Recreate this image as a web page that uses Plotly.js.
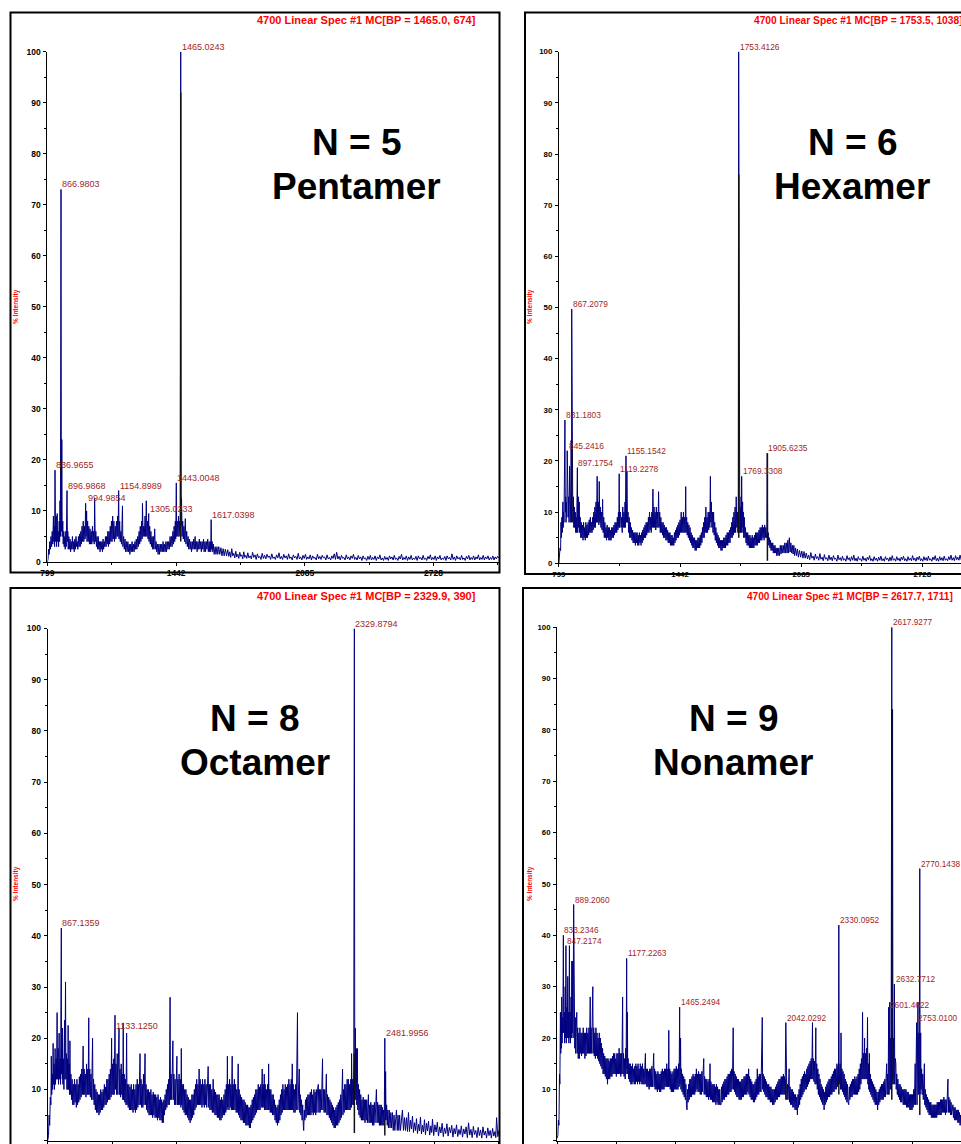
<!DOCTYPE html>
<html>
<head>
<meta charset="utf-8">
<script src="https://cdn.plot.ly/plotly-3.0.1.min.js"></script>
<style>
html,body{margin:0;padding:0;background:#fff;}
#chart{width:961px;height:1144px;}
</style>
</head>
<body>
<div id="chart"></div>
<script>
// ---------------- DATA ----------------
const xTickValues = [799, 1442, 2085, 2728];
const yTickValues = [0, 10, 20, 30, 40, 50, 60, 70, 80, 90, 100];

const oligomerLabels = ['N = 5', 'N = 6', 'N = 8', 'N = 9'];
const oligomerNames = ['Pentamer', 'Hexamer', 'Octamer', 'Nonamer'];
const spectrumTitles = [
  '4700 Linear Spec #1 MC[BP = 1465.0, 674]',
  '4700 Linear Spec #1 MC[BP = 1753.5, 1038]',
  '4700 Linear Spec #1 MC[BP = 2329.9, 390]',
  '4700 Linear Spec #1 MC[BP = 2617.7, 1711]'
];
const yAxisTitle = '% Intensity';

// labelled peaks: m/z and % intensity
const pentamerPeakMz = [1465.0243, 866.9803, 836.9655, 896.9868, 994.9854, 1154.8989, 1305.0233, 1443.0048, 1617.0398];
const pentamerPeakInt = [100, 73, 18, 14, 11.5, 14, 9.5, 15.5, 8.3];
const hexamerPeakMz = [1753.4126, 867.2079, 831.1803, 845.2416, 897.1754, 1155.1542, 1119.2278, 1769.3308, 1905.6235];
const hexamerPeakInt = [100, 49.7, 28, 22, 18.7, 21, 17.5, 17, 21.5];
const octamerPeakMz = [2329.8794, 867.1359, 1133.1250, 2481.9956];
const octamerPeakInt = [100, 41.5, 21.5, 20];
const nonamerPeakMz = [2617.9277, 2770.1438, 2330.0952, 889.2060, 833.2346, 847.2174, 1177.2263, 1465.2494, 2042.0292, 2632.7712, 2601.4622, 2753.0100];
const nonamerPeakInt = [100, 53, 42, 46, 40, 38, 35.5, 26, 23, 30.5, 25.5, 23];

// black centroid marks under the main peaks: m/z, low and high % intensity
const pentamerMarkMz = [1465.0, 866.98];
const pentamerMarkLow = [4, 17];
const pentamerMarkHigh = [92, 20];
const hexamerMarkMz = [1753.4, 1905.6, 867.2];
const hexamerMarkLow = [5, 0.5, 8];
const hexamerMarkHigh = [76, 21.5, 24];
const octamerMarkMz = [2329.9, 2482.0];
const octamerMarkLow = [1.5, 1];
const octamerMarkHigh = [17, 4];
const nonamerMarkMz = [2617.9, 2042.0, 2330.1, 2770.1];
const nonamerMarkLow = [8, 8, 9, 5];
const nonamerMarkHigh = [84, 12, 12, 9];

// spectra: [m/z, % intensity]
const pentamerSpectrum = [
[799,0],[802,0.5],[805,2.5],[808,1.5],[811,4],[814,2.5],[817,5],[820,3],[823,6],[826,3.5],[829,9],[831,4],[834,7],[835,3],[837,18],[840,4],[843,9],[845,3],[848,9.5],[850,4],[853,6],[855,3],[858,8],[860,4],[862,12],[864,5],[867,73],[869,6],[871,24],[873,5],[876,8],[878,3.5],[881,6],[883,3],[886,5],[888,2.5],[891,6],[893,3],[897,14],[899,4],[901,6],[903,2.5],[906,5],[909,2.5],[912,4.5],[915,2],[918,4],[921,2.5],[924,5],[927,2.5],[930,4],[933,2],[936,4.5],[939,2.5],[942,5],[945,3],[948,4],[951,2.5],[954,5],[957,3],[960,5.5],[963,3],[966,6],[969,3.5],[972,7],[975,4],[978,8],[981,4],[984,7],[987,4.5],[990,11.5],[992,5],[995,10],[997,4],[1000,8],[1003,4],[1006,7],[1009,3.5],[1012,6.5],[1015,3.5],[1018,6],[1021,3.5],[1024,7],[1027,4],[1030,6],[1033,3.5],[1035,12.5],[1038,4],[1041,6],[1044,3],[1047,5],[1050,2.5],[1053,5],[1056,2.5],[1059,4],[1062,2],[1065,4],[1068,2.5],[1071,4],[1074,2],[1077,4.5],[1080,2.5],[1083,4],[1086,3],[1089,5],[1092,3],[1095,5],[1098,3.5],[1101,6],[1104,3],[1107,6],[1110,3.5],[1113,7],[1116,4],[1119,8],[1122,4],[1125,9],[1128,4.5],[1131,8],[1134,4],[1138,7],[1141,4.5],[1144,8],[1147,5],[1150,9],[1152,5],[1155,14],[1157,4.5],[1160,8],[1163,4],[1166,6],[1169,3.5],[1171,6],[1174,11],[1176,3],[1180,5],[1183,2.5],[1187,4.5],[1190,2],[1194,4],[1197,2],[1201,4],[1204,2],[1208,3.5],[1211,1.5],[1215,3.5],[1218,2],[1222,4],[1225,2],[1229,3.5],[1232,2],[1236,4],[1239,2.5],[1243,4.5],[1246,2.5],[1250,5],[1253,3],[1257,6],[1260,3.5],[1263,7],[1266,4],[1270,8],[1272,4.5],[1274,11.5],[1277,5],[1280,7],[1283,5],[1287,9],[1290,5],[1293,12],[1296,5],[1299,8],[1302,4.5],[1305,9.5],[1307,4],[1310,7],[1313,3.5],[1316,6],[1319,3],[1322,5],[1325,2.5],[1328,5],[1331,2.5],[1335,6.5],[1338,2.5],[1342,4],[1345,2],[1349,3.5],[1352,1.5],[1356,3.5],[1359,1.5],[1363,3.5],[1366,2],[1370,3.5],[1373,2],[1377,4],[1380,2],[1384,3.5],[1387,2],[1391,4],[1394,2],[1398,4],[1401,2.5],[1405,4],[1408,2.5],[1412,5],[1415,3],[1419,5],[1422,3],[1426,6],[1429,3.5],[1432,7],[1435,4],[1438,8],[1440,4.5],[1443,15.5],[1445,5],[1448,8],[1451,5],[1454,9],[1457,5],[1460,8],[1462,6],[1465,100],[1467,7],[1469,12.5],[1472,5],[1475,8],[1478,4.5],[1481,7],[1484,4],[1488,8.5],[1491,3.5],[1495,6],[1498,3],[1502,5],[1505,2.5],[1509,4.5],[1512,2.5],[1516,4],[1519,2],[1523,4],[1526,2.5],[1530,4.5],[1533,2.5],[1537,5],[1540,2.5],[1544,4],[1547,2],[1551,4],[1554,2.5],[1558,4.5],[1561,2.5],[1565,4],[1568,2],[1572,4],[1575,2.5],[1579,4.5],[1582,2],[1586,4],[1589,2],[1593,4],[1596,2.5],[1600,4.5],[1603,2],[1607,4],[1610,2],[1613,4],[1615,2],[1617,8.3],[1619,2.5],[1622,4],[1625,2],[1628,3.5],[1632,1.5],[1637,3],[1641,1.5],[1646,3],[1650,1.5],[1655,3],[1660,1.5],[1666,2.8],[1671,1.2],[1677,2.6],[1682,1.2],[1688,2.5],[1694,1.2],
[1700,2.4],[1705,1.1],[1710,2.0],[1715,0.9],[1720,2.6],[1725,1.2],[1730,1.7],[1735,0.8],[1740,2.1],[1745,1.0],[1750,1.5],[1755,0.7],[1760,1.9],[1765,1.1],[1770,1.4],[1775,0.6],[1780,2.0],[1785,0.9],[1790,1.3],[1795,0.7],[1800,1.8],[1806,0.8],[1812,1.2],[1818,0.6],[1824,1.9],[1830,0.9],[1836,1.4],[1842,0.5],[1848,1.6],[1854,0.8],[1860,1.1],[1866,0.5],[1872,1.7],[1878,0.7],[1884,1.3],[1890,0.6],[1896,1.5],[1902,0.9],[1908,1.2],[1914,0.5],[1920,1.6],[1926,0.7],[1932,1.0],[1938,0.5],[1944,1.4],[1950,0.8],[1956,1.8],[1962,0.6],[1968,1.1],[1974,0.5],[1980,1.5],[1986,0.8],[1992,1.2],[1998,0.5],[2004,1.6],[2010,0.7],[2016,1.0],[2022,0.4],[2028,1.4],[2034,0.8],[2040,1.1],[2046,0.5],[2052,1.7],[2058,0.6],[2064,1.0],[2070,0.4],[2076,1.3],[2082,0.7],[2088,1.5],[2094,0.5],[2100,1.0],[2106,0.6],[2112,1.4],[2118,0.4],[2124,1.2],[2130,0.7],[2136,0.9],[2142,0.4],[2148,1.5],[2154,0.6],[2160,1.1],[2166,0.5],[2172,1.3],[2178,0.8],[2184,1.0],[2190,0.4],[2196,1.4],[2202,0.6],[2208,0.9],[2214,0.4],[2220,1.2],[2226,0.7],[2232,1.6],[2238,0.5],[2244,1.9],[2250,0.6],[2256,1.1],[2262,0.4],[2268,1.3],[2274,0.7],[2280,0.9],[2286,0.4],[2292,1.4],[2298,0.6],[2304,1.0],[2310,0.4],[2316,1.2],[2322,0.7],[2328,1.5],[2334,0.5],[2340,0.9],[2346,0.4],[2352,1.3],[2358,0.6],[2364,1.0],[2370,0.3],[2376,1.2],[2382,0.6],[2388,0.8],[2394,0.3],[2400,1.1],[2406,0.5],[2412,1.3],[2418,0.4],[2424,0.9],[2430,0.5],[2436,1.2],[2442,0.3],[2448,1.0],[2454,0.6],[2460,1.4],[2466,0.4],[2472,0.8],[2478,0.3],[2484,1.1],[2490,0.5],[2496,0.9],[2502,0.3],[2508,1.2],[2514,0.6],[2520,1.0],[2526,0.4],[2532,1.3],[2538,0.5],[2544,0.8],[2550,0.3],[2556,1.1],[2562,0.6],[2568,1.5],[2574,0.4],[2580,0.9],[2586,0.5],[2592,1.2],[2598,0.3],[2604,1.0],[2610,0.5],[2616,1.3],[2622,0.4],[2628,0.8],[2634,0.5],[2640,1.1],[2646,0.3],[2652,1.2],[2658,0.6],[2664,0.9],[2670,0.4],[2676,1.3],[2682,0.5],[2688,0.8],[2694,0.3],[2700,1.1],[2706,0.6],[2712,1.4],[2718,0.4],[2724,0.9],[2730,0.5],[2736,1.2],[2742,0.3],[2748,1.0],[2754,0.6],[2760,1.3],[2766,0.4],[2772,0.8],[2778,0.5],[2784,1.1],[2790,0.3],[2796,1.2],[2802,0.6],[2808,0.9],[2814,0.4],[2820,1.6],[2826,0.5],[2832,1.0],[2838,0.3],[2844,1.2],[2850,0.6],[2856,0.9],[2862,0.4],[2868,1.3],[2874,0.5],[2880,0.8],[2886,0.3],[2892,1.1],[2898,0.6],[2904,1.3],[2910,0.4],[2916,0.9],[2922,0.5],[2928,1.2],[2934,0.4],[2940,1.0],[2946,0.6],[2952,1.4],[2958,0.4],[2964,0.9],[2970,0.5],[2976,1.3],[2982,0.4],[2988,1.0],[2994,0.6],[3000,1.2],[3006,0.4],[3012,0.9],[3018,0.5],[3024,1.2],[3030,0.4],[3036,1.0],[3042,0.6],[3048,1.1],[3055,0.8]
];

const hexamerSpectrum = [
[799,0],[802,1],[805,3],[808,2.5],[810,8],[812,5],[815,9],[817,6],[820,12],[822,7],[824,10],[826,8],[828,27],[830,9],[831,28],[833,10],[835,13],[837,8],[839,12],[841,9],[843,22],[845,10],[847,22],[849,9],[851,13],[853,8],[856,19],[858,9],[860,13],[862,8],[864,24],[866,9],[867,49.7],[869,10],[871,24],[873,8],[876,13],[878,7],[881,11],[883,7],[886,10],[888,6],[891,9],[893,6],[897,18.7],[899,6],[902,13],[904,7],[907,12],[909,6],[912,9],[915,5],[918,8],[921,5],[924,7.5],[927,4.5],[930,8],[933,5],[936,7],[939,4.5],[942,8],[945,5],[948,7.5],[951,5],[954,8],[957,5.5],[960,8.5],[963,6],[966,9],[969,6],[972,8],[975,6],[978,9],[981,6.5],[984,10],[987,7],[990,11],[993,7],[996,12],[999,8],[1002,17],[1005,8],[1008,12],[1011,7.5],[1013,16],[1016,8],[1019,11],[1022,7],[1025,10],[1028,6.5],[1031,12.5],[1034,6],[1037,9],[1040,5],[1043,8],[1046,5],[1049,7],[1052,4.5],[1055,7.5],[1058,5],[1061,7],[1064,4.5],[1067,7],[1070,4.5],[1073,6.5],[1076,4.5],[1079,7],[1082,5],[1085,7],[1088,5],[1091,7.5],[1094,5.5],[1097,8],[1100,6],[1103,8],[1106,6],[1109,9],[1112,6.5],[1115,10],[1117,7],[1119,17.5],[1121,7],[1123,9],[1126,10],[1129,7],[1132,9],[1135,6],[1138,11],[1141,7],[1144,10],[1147,7],[1150,12],[1152,7],[1155,21],[1157,8],[1160,18],[1163,8],[1166,10],[1169,6],[1172,9],[1175,5],[1178,8],[1181,5],[1184,7],[1187,4.5],[1190,6.5],[1193,4],[1196,6],[1199,4],[1202,6],[1205,3.5],[1208,6],[1211,4],[1214,6],[1217,3.5],[1220,5.5],[1223,3.5],[1226,6],[1229,4],[1232,5.5],[1235,3.5],[1238,6],[1241,4],[1244,6.5],[1247,4.5],[1250,7],[1253,5],[1256,7.5],[1259,5],[1262,8],[1265,5.5],[1268,8],[1271,6],[1274,9],[1277,6],[1280,10],[1283,6.5],[1286,9],[1289,6],[1292,10],[1295,7],[1298,14.5],[1301,7],[1304,11],[1307,7],[1310,10],[1313,6.5],[1316,11],[1319,7],[1322,10],[1325,7],[1328,14],[1331,7],[1334,10],[1337,6],[1340,9],[1343,6],[1346,8],[1349,5.5],[1352,8],[1355,5],[1358,7.5],[1361,5],[1364,7],[1367,4.5],[1370,7],[1373,4.5],[1376,6.5],[1379,4],[1382,6],[1385,4],[1388,6],[1391,3.5],[1394,5.5],[1397,3.5],[1400,5.5],[1403,3.5],[1406,5],[1409,3.5],[1412,6],[1415,4],[1418,6.5],[1421,4.5],[1424,7],[1427,5],[1430,7.5],[1433,5],[1436,8],[1439,5.5],[1442,8.5],[1445,6],[1448,10],[1451,6],[1454,9],[1457,6],[1460,10],[1463,6],[1466,9],[1469,6],[1472,15],[1474,6],[1477,9],[1480,5.5],[1483,8],[1486,5],[1489,7.5],[1492,4.5],[1495,7],[1498,4],[1501,6],[1504,3.5],[1507,5.5],[1510,3],[1513,5],[1516,3],[1519,5],[1522,2.5],[1525,4.5],[1528,2.5],[1531,4.5],[1534,3],[1537,5],[1540,3],[1543,5],[1546,3],[1549,5.5],[1552,3.5],[1555,6],[1558,4],[1561,7],[1564,5],[1567,8],[1570,5],[1573,9],[1576,6],[1579,11],[1582,6],[1585,9],[1588,6],[1591,10],[1594,6.5],[1597,10],[1600,7],[1603,17],[1605,8],[1608,12],[1611,7],[1614,10],[1617,6],[1620,10],[1623,5.5],[1626,8],[1629,4.5],[1632,7],[1635,4],[1638,6],[1641,3.5],[1644,5.5],[1647,3],[1650,5],[1653,3],[1656,4.5],[1659,2.5],[1662,4.5],[1665,2.5],[1668,4.5],[1671,3],[1674,5],[1677,3],[1680,5],[1683,3],[1686,5.5],[1689,3.5],[1692,6],[1695,3.5],[1698,6],[1701,4],[1704,6.5],[1707,4],[1710,7],[1713,5],[1716,8],[1719,5],[1722,9],[1725,5.5],[1728,10],[1731,6],[1734,11],[1737,6],[1740,13],[1743,7],[1746,10],[1749,6],[1751,9],[1753,100],[1755,9],[1757,12],[1759,6],[1762,11],[1764,6],[1766,13],[1767,6],[1769,17],[1771,7],[1774,12],[1776,6],[1778,10],[1780,5],[1783,9],[1786,5],[1789,7],[1792,4],[1795,6],[1798,3.5],[1801,6],[1804,3.5],[1807,5.5],[1810,3],[1813,5.5],[1816,3],[1819,5],[1822,3],[1825,5.5],[1828,3],[1831,5],[1834,3],[1837,5.5],[1840,3.5],[1843,6],[1846,3.5],[1849,6],[1852,3.5],[1855,6],[1858,4],[1861,6.5],[1864,4],[1867,7],[1870,4.5],[1873,7],[1876,4.5],[1879,7.5],[1882,5],[1885,7],[1888,4.5],[1891,7.5],[1894,5],[1897,7],[1900,5],[1903,6],[1905,21.5],[1907,5],[1910,6],[1913,3.5],[1916,5],[1919,3],[1922,4.5],[1925,2.5],[1928,4],[1931,2.5],[1934,4],[1937,2],[1940,3.5],[1943,2],[1946,3.5],[1949,2],[1952,3],[1955,1.5],[1958,3],[1962,1.5],[1966,3],[1970,1.5],[1974,3.5],[1978,1.8],[1982,3.5],[1986,2],[1990,3.5],[1994,2],[1998,4],[2002,2],[2006,4],[2010,2],[2014,4.5],[2018,2],[2022,5],[2026,2.2],[2030,4],[2034,2],[2038,3.5],[2042,1.8],[2046,3.5],[2050,1.5],[2055,3],[2060,1.5],[2065,2.8],[2070,1.2],[2076,2.5],[2082,1.2],[2088,2.4],[2094,1],
[2100,2.3],[2106,1.0],[2112,2.0],[2118,0.9],[2124,1.6],[2130,0.7],[2136,2.1],[2142,1.0],[2148,1.4],[2154,0.6],[2160,1.8],[2166,0.9],[2172,1.3],[2178,0.6],[2184,1.9],[2190,0.8],[2196,1.2],[2202,0.5],[2208,1.7],[2214,0.8],[2220,1.1],[2226,0.5],[2232,1.6],[2238,0.7],[2244,1.2],[2250,0.5],[2256,1.5],[2262,0.8],[2268,1.0],[2274,0.4],[2280,1.6],[2286,0.7],[2292,1.1],[2298,0.5],[2304,1.4],[2310,0.6],[2316,0.9],[2322,0.4],[2328,1.5],[2334,0.7],[2340,1.1],[2346,0.4],[2352,1.3],[2358,0.6],[2364,1.6],[2370,0.5],[2376,1.0],[2382,0.4],[2388,1.3],[2394,0.7],[2400,0.9],[2406,0.4],[2412,1.4],[2418,0.6],[2424,1.0],[2430,0.4],[2436,1.2],[2442,0.7],[2448,1.5],[2454,0.5],[2460,0.9],[2466,0.4],[2472,1.3],[2478,0.6],[2484,1.0],[2490,0.4],[2496,1.2],[2502,0.6],[2508,1.4],[2514,0.5],[2520,0.9],[2526,0.4],[2532,1.3],[2538,0.7],[2544,1.0],[2550,0.4],[2556,1.2],[2562,0.5],[2568,1.5],[2574,0.6],[2580,0.9],[2586,0.4],[2592,1.3],[2598,0.6],[2604,1.0],[2610,0.4],[2616,1.2],[2622,0.7],[2628,1.4],[2634,0.5],[2640,0.9],[2646,0.4],[2652,1.3],[2658,0.6],[2664,1.0],[2670,0.5],[2676,1.5],[2682,0.6],[2688,1.0],[2694,0.4],[2700,1.2],[2706,0.7],[2712,1.4],[2718,0.5],[2724,0.9],[2730,0.4],[2736,1.3],[2742,0.6],[2748,1.1],[2754,0.5],[2760,1.4],[2766,0.6],[2772,0.9],[2778,0.4],[2784,1.2],[2790,0.7],[2796,1.5],[2802,0.5],[2808,1.0],[2814,0.4],[2820,1.3],[2826,0.6],[2832,1.1],[2838,0.5],[2844,1.4],[2850,0.6],[2856,0.9],[2862,0.5],[2868,1.3],[2874,0.7],[2880,1.6],[2886,0.6],[2892,1.1],[2898,0.5],[2904,1.5],[2910,0.7],[2916,1.2],[2922,0.6],[2928,1.6],[2934,0.7],[2940,1.1],[2946,0.6],[2952,1.4],[2959,0.9]
];

const octamerSpectrum = [
[799,0],[803,1],[806,5],[809,3],[812,8.5],[815,7],[817,16.5],[819,9],[822,13],[824,10],[826,19],[828,11],[831,15],[833,10],[836,18],[838,11],[841,16],[843,12],[846,25],[848,12],[851,18],[853,11],[856,21],[858,12],[861,16],[863,11],[867,41.5],[868,13],[870,18],[872,12],[873,22],[875,11],[878,16],[880,10],[883,23.5],[885,12],[888,31],[890,12],[893,17],[895,10],[898,16],[900,10],[901,22.5],[903,10],[906,15],[908,9],[910,19.5],[912,9],[915,13],[918,8],[921,12],[924,7],[927,11],[930,7],[933,12],[936,7.5],[939,11],[942,6.5],[945,12],[948,7],[951,11],[954,7.5],[957,12.5],[960,8],[963,13],[966,8.5],[969,14],[972,9],[976,18.5],[978,9],[981,14],[984,9],[987,13],[990,8.5],[993,15],[996,9],[999,14],[1001,9],[1004,24],[1006,9],[1009,14],[1012,8.5],[1015,13],[1018,8],[1021,14],[1023,20],[1025,8],[1028,12],[1031,7],[1034,11],[1037,6],[1040,10],[1043,5.5],[1046,9.5],[1049,5.5],[1052,9],[1055,5],[1058,9],[1061,5.5],[1064,10],[1067,6],[1070,9.5],[1073,6],[1076,10],[1079,6.5],[1082,11],[1085,7],[1088,10.5],[1091,7],[1094,12],[1097,7.5],[1100,12],[1103,8],[1106,13],[1109,8],[1112,14],[1115,8.5],[1118,20],[1120,9],[1123,15],[1126,9],[1129,16],[1131,9],[1133,21.5],[1135,24.5],[1137,10],[1140,15],[1143,9],[1146,17],[1149,9],[1152,14],[1155,22],[1157,9],[1160,14],[1163,8.5],[1166,15],[1169,9],[1172,13],[1174,8],[1176,23],[1178,8],[1181,13],[1184,7.5],[1187,12],[1190,7],[1193,21],[1195,7],[1198,11],[1201,6.5],[1204,11],[1207,6],[1210,10.5],[1213,6],[1216,11],[1219,6],[1222,10],[1225,5.5],[1228,11],[1231,6],[1234,10],[1237,5.5],[1240,11],[1243,6],[1246,12],[1249,6.5],[1252,11],[1255,7],[1258,12],[1260,17],[1262,7],[1265,12],[1268,6.5],[1271,11],[1274,6.5],[1277,13],[1280,7],[1283,12],[1285,17],[1287,7],[1290,11],[1293,6],[1296,10],[1299,5.5],[1302,10],[1305,5],[1308,9.5],[1311,5],[1314,10],[1317,5],[1320,9],[1323,4.5],[1326,9.5],[1329,5],[1332,9],[1335,4.5],[1338,9],[1341,4.5],[1344,8.5],[1347,4],[1350,9],[1353,4.5],[1356,8],[1359,4],[1362,8.5],[1365,4],[1368,8],[1371,3.5],[1374,7.5],[1376,3.5],[1379,8],[1382,5],[1385,9],[1388,6],[1391,10],[1394,6.5],[1397,11],[1400,7],[1403,12],[1406,7],[1408,13],[1410,28],[1412,8],[1415,13],[1418,8],[1421,14],[1424,19.5],[1426,8],[1429,13],[1432,7],[1435,12],[1438,7],[1441,13],[1444,16.5],[1446,7],[1449,12],[1452,7],[1455,13],[1458,7],[1461,12],[1464,6.5],[1466,18],[1468,7],[1471,11],[1474,6],[1477,11],[1480,5.5],[1483,10],[1486,5],[1489,10],[1492,5],[1495,9],[1498,4.5],[1501,8.5],[1504,4],[1507,8],[1510,3.5],[1513,8],[1516,4],[1519,9],[1522,4.5],[1525,9],[1528,5],[1531,10],[1534,6],[1537,11],[1540,6.5],[1543,12],[1546,7],[1549,11],[1552,7],[1555,14],[1557,7],[1560,12],[1563,7],[1566,11],[1569,6.5],[1572,12],[1575,7],[1578,11],[1581,6.5],[1584,12],[1587,7],[1590,11],[1593,6.5],[1596,12],[1600,14.5],[1603,6.5],[1606,11],[1609,6],[1612,11],[1615,6],[1618,10],[1621,5.5],[1625,12],[1628,5.5],[1631,10],[1634,5],[1637,9.5],[1640,5],[1643,9],[1646,4.5],[1649,9],[1652,4.5],[1655,9],[1658,4],[1661,8],[1664,4],[1667,8.5],[1670,4.5],[1673,8],[1676,5],[1679,9],[1682,5],[1685,10],[1688,5.5],[1691,11],[1694,6],[1696,16.5],[1698,6.5],[1701,11],[1704,6],[1707,12],[1710,6.5],[1713,11],[1716,6],[1720,16.5],[1722,6],[1725,11],[1728,6],[1731,12],[1734,6],[1737,11],[1740,5.5],[1743,10],[1746,5.5],[1750,15],[1752,5],[1755,10],[1758,4.5],[1761,9],[1764,4],[1767,8.5],[1770,4],[1773,8],[1776,3.5],[1779,8],[1782,3.5],[1785,7.5],[1788,3],[1791,7],[1794,3],[1797,7],[1800,3],[1803,6.5],[1806,2.5],[1809,6.5],[1811,2.5],[1814,7],[1817,3.5],[1820,8],[1823,4],[1826,8.5],[1829,4.5],[1832,9],[1835,5],[1838,10],[1841,5.5],[1844,10],[1847,6],[1850,11],[1853,6],[1856,10.5],[1859,6],[1862,11],[1865,6.5],[1868,10],[1870,14],[1872,6.5],[1875,11],[1878,6.5],[1880,13],[1882,6],[1885,11],[1888,6],[1891,10],[1894,6],[1897,11],[1900,6],[1902,15],[1904,6],[1907,10],[1910,5.5],[1913,10],[1916,5.5],[1919,9],[1922,5],[1925,9],[1928,5],[1931,8],[1934,4],[1937,7],[1940,3.5],[1943,6.5],[1946,3],[1949,7],[1952,3.5],[1955,8],[1958,4],[1961,9],[1964,5],[1967,10],[1970,5.5],[1973,11],[1976,6],[1979,10],[1982,6],[1985,11],[1988,6],[1991,10.5],[1994,6],[1997,11],[2000,6],[2003,12],[2006,6],[2009,11],[2012,6],[2015,12],[2017,6],[2020,15],[2022,6],[2025,11],[2028,5.5],[2031,10],[2034,5.5],[2037,11],[2040,6],[2043,12],[2046,25],[2048,6],[2051,11],[2055,14],[2057,5.5],[2060,9],[2063,5],[2066,8],[2069,4],[2072,7],[2075,3],[2077,2],[2080,6],[2083,4],[2086,8],[2089,4.5],[2092,8.5],[2095,5],[2098,9],[2101,5],[2104,9],[2107,5],[2110,9.5],[2113,5],[2116,10],[2119,5.5],[2122,9],[2125,5],[2128,10],[2131,5.5],[2134,9.5],[2137,5],[2140,10],[2143,5.5],[2146,10],[2150,11],[2153,5.5],[2156,10],[2159,5.5],[2162,10],[2165,6],[2168,11],[2171,16],[2173,6],[2176,10],[2179,5.5],[2182,10],[2185,5.5],[2188,9],[2190,13],[2193,5],[2196,9],[2199,5],[2202,8.5],[2205,4.5],[2208,8],[2211,4],[2214,7.5],[2217,3.5],[2220,7],[2223,3],[2226,6.5],[2229,2.5],[2232,6],[2235,2.5],[2238,6.5],[2241,3],[2244,7],[2247,3],[2250,7.5],[2253,3.5],[2256,8],[2259,4],[2262,9],[2265,4.5],[2268,10],[2271,14],[2273,5],[2276,10],[2279,5.5],[2282,11],[2285,6],[2288,11],[2291,6],[2294,12],[2297,6],[2300,12],[2303,6],[2306,11],[2309,6],[2312,12],[2315,6.5],[2316,17],[2319,7],[2322,12],[2325,7],[2327,16],[2329.9,100],[2332,9],[2335,22],[2337,8],[2340,18],[2342,7],[2345,18],[2347,6],[2350,11],[2353,5],[2356,10],[2359,4.5],[2362,9],[2365,4],[2368,8],[2371,4],[2374,8.5],[2377,4],[2380,8],[2383,3.5],[2386,8],[2389,4],[2392,8],[2395,3.5],[2398,7.5],[2400,9],[2403,3.5],[2406,7],[2409,3.5],[2412,7.5],[2415,3.5],[2418,7],[2421,3],[2424,7],[2427,3],[2430,7.5],[2433,3.5],[2436,8],[2440,10],[2443,3.5],[2446,7.5],[2449,3.5],[2452,7],[2455,3],[2458,7],[2461,3],[2464,7],[2467,3],[2470,6.5],[2473,3],[2476,6],[2479,3],[2482,20],[2484,4],[2486,13.5],[2488,4],[2491,7],[2494,3],[2497,6],[2500,2.5],[2504,6],[2508,2.5],[2512,5.5],[2516,2.5],[2520,5.5],[2524,2],[2528,5],[2532,2],[2536,5],[2540,6],[2544,2],[2548,5],[2552,2],[2556,5],[2560,2],[2565,5],[2570,6],[2575,2],[2580,4.5],[2585,2],[2590,4.5],[2595,1.8],
[2600,5.5],[2605,1.8],[2610,4.0],[2615,2.3],[2620,4.8],[2625,1.6],[2630,3.5],[2635,2.0],[2640,4.3],[2645,1.4],[2650,3.2],[2655,1.9],[2660,4.6],[2665,1.3],[2670,3.0],[2675,1.7],[2680,4.1],[2685,1.2],[2690,3.4],[2695,1.9],[2700,3.8],[2706,1.1],[2712,2.9],[2716,1.6],[2720,4.2],[2726,1.0],[2732,3.1],[2738,1.7],[2744,3.6],[2750,0.9],[2756,2.7],[2762,1.5],[2768,3.4],[2774,0.8],[2780,2.5],[2786,1.4],[2792,3.3],[2798,0.9],[2804,2.6],[2810,1.5],[2816,3.0],[2822,0.7],[2828,2.4],[2834,1.3],[2840,3.1],[2846,0.8],[2852,2.2],[2858,1.2],[2864,2.9],[2870,0.7],[2876,2.3],[2882,1.3],[2888,2.7],[2894,0.6],[2900,3.5],[2906,1.1],[2912,2.2],[2918,0.6],[2924,2.8],[2930,1.2],[2936,2.0],[2942,0.6],[2948,2.6],[2954,1.0],[2960,2.1],[2966,0.5],[2972,2.7],[2978,1.1],[2984,1.9],[2990,0.5],[2996,2.5],[3002,1.0],[3008,2.0],[3014,0.5],[3020,2.4],[3026,0.9],[3032,1.8],[3036,0.6],[3040,4.5],[3046,0.8],[3052,2]
];

const nonamerSpectrum = [
[799,0.5],[803,1],[806,4],[809,3],[812,13],[814,11],[817,25],[819,17],[821,25],[823,18],[824,28],[826,19],[828,24],[830,21],[833,40],[835,21],[838,25],[840,19],[843,30],[845,20],[847,38],[849,19],[852,26],[854,20],[857,32],[859,20],[861,25],[863,19],[866,38],[868,20],[870,25],[872,19],[875,28],[877,20],[879,35],[881,21],[884,35],[886,20],[889,46],[891,20],[893,25],[895,18],[898,24],[900,17],[903,22],[906,25],[908,17],[911,22],[914,16],[917,21],[920,16],[923,22],[926,17],[929,21],[932,16.5],[935,21],[938,17],[941,22],[944,17],[947,21],[950,16],[953,21],[956,16.5],[960,22],[963,17],[966,21],[969,17],[972,22],[975,17],[979,28],[981,17],[984,22],[987,17],[990,21],[993,30],[995,17],[998,22],[1001,16.5],[1004,21],[1007,16],[1010,22],[1013,16.5],[1016,21],[1019,16],[1022,20],[1025,15.5],[1028,21],[1031,15],[1034,20],[1037,14.5],[1040,19],[1043,14],[1046,18],[1049,13],[1052,17],[1055,13],[1058,16.5],[1061,12.5],[1064,16],[1067,12],[1070,16],[1073,11],[1076,16],[1079,12],[1082,15.5],[1085,12],[1088,16],[1091,12.5],[1094,16],[1097,12.5],[1100,16.5],[1103,13],[1106,17],[1109,13],[1112,17],[1115,13],[1118,16],[1121,12.5],[1124,17],[1127,13],[1130,17],[1133,13],[1136,18],[1139,13],[1142,17],[1145,12.5],[1148,17],[1151,13],[1155,28],[1157,13],[1160,17],[1163,12.5],[1166,16],[1169,12],[1172,18],[1174,13],[1177,35.5],[1179,14],[1181,25],[1183,13],[1185,16],[1188,12],[1191,15],[1194,11.5],[1197,15],[1200,11],[1203,14.5],[1206,11],[1209,15],[1212,11.5],[1215,14],[1218,11],[1221,14.5],[1224,11],[1227,15],[1230,11.5],[1233,14.5],[1236,11],[1239,15],[1242,11.5],[1245,14],[1248,11],[1251,15],[1254,11.5],[1257,14.5],[1260,11],[1263,15],[1266,11],[1269,14],[1272,11],[1275,15],[1279,17],[1281,11],[1284,14],[1287,10.5],[1290,14],[1293,10.5],[1296,13.5],[1299,10],[1302,14],[1305,10.5],[1308,14],[1311,10.5],[1314,14.5],[1317,10.5],[1320,14],[1324,17],[1326,10.5],[1329,14],[1332,10],[1335,13.5],[1338,10],[1341,13],[1344,9.5],[1347,13.5],[1350,10],[1353,13],[1356,9.5],[1359,13],[1362,9.5],[1365,13.5],[1368,10],[1371,14],[1374,10],[1377,13.5],[1380,10],[1383,14],[1386,10.5],[1389,14],[1392,10.5],[1395,15],[1398,10.5],[1401,14],[1404,10.5],[1406,21.5],[1408,10.5],[1411,14],[1414,10],[1417,13.5],[1420,9.5],[1423,13],[1426,9.5],[1429,13.5],[1432,9.5],[1435,14],[1438,10],[1441,14],[1444,10],[1447,14.5],[1450,10],[1453,14],[1456,10],[1459,15],[1462,10.5],[1465,26],[1467,11],[1470,20],[1472,10],[1475,14],[1478,9.5],[1481,13],[1484,9],[1487,12.5],[1490,8.5],[1493,12],[1496,8],[1499,11],[1502,7],[1505,6],[1508,10],[1511,7.5],[1514,11],[1517,8],[1520,12],[1523,8.5],[1526,12],[1529,8.5],[1532,12.5],[1535,9],[1538,13],[1541,9],[1544,12.5],[1547,9],[1550,13],[1553,9.5],[1556,14],[1559,10],[1562,13],[1565,9.5],[1568,13.5],[1571,9.5],[1574,13],[1577,9],[1580,13],[1583,9],[1586,13.5],[1589,9.5],[1592,13],[1596,16],[1598,9],[1601,12.5],[1604,9],[1607,12],[1610,8.5],[1613,12],[1616,8.5],[1619,11.5],[1622,8],[1625,12],[1628,8.5],[1630,15],[1632,8],[1635,11.5],[1638,8],[1641,11],[1644,7.5],[1647,11],[1650,7.5],[1653,11],[1656,7.5],[1659,10.5],[1662,7],[1665,11],[1668,7.5],[1671,10.5],[1674,7],[1677,10],[1680,7],[1683,10],[1686,7],[1690,7],[1693,10.5],[1696,7.5],[1699,11],[1702,8],[1705,11.5],[1708,8],[1711,12],[1714,8.5],[1717,12],[1720,8.5],[1723,12.5],[1726,9],[1729,13],[1732,9],[1735,13],[1738,9.5],[1741,13.5],[1744,9.5],[1747,14],[1750,10],[1753,14],[1756,22],[1758,10],[1761,13.5],[1764,9.5],[1767,13],[1770,9],[1773,12.5],[1776,8.5],[1779,12],[1782,8.5],[1785,12],[1788,8],[1791,11.5],[1794,8],[1797,11.5],[1800,8],[1803,12],[1806,8.5],[1809,12],[1812,8.5],[1815,12.5],[1818,9],[1821,12.5],[1824,9],[1827,13],[1830,9],[1833,13],[1836,9.5],[1840,14],[1842,9],[1845,12.5],[1848,8.5],[1851,12],[1854,8],[1857,11.5],[1860,8],[1863,11],[1866,7.5],[1869,11],[1872,7.5],[1875,11.5],[1878,8],[1881,12],[1884,8.5],[1887,14],[1889,9],[1892,12.5],[1895,9],[1898,13],[1901,9.5],[1904,13],[1907,9.5],[1910,13.5],[1914,24],[1916,10],[1919,13],[1922,9.5],[1925,12.5],[1928,9],[1931,12],[1934,8.5],[1937,11.5],[1940,8.5],[1943,11],[1946,8],[1949,11],[1952,8],[1955,10.5],[1958,7.5],[1961,10.5],[1964,7.5],[1967,10],[1970,7],[1973,10],[1976,7],[1978,7],[1981,10],[1984,7.5],[1987,10.5],[1990,8],[1993,11],[1996,8],[1999,11.5],[2002,8.5],[2005,12],[2008,8.5],[2011,12],[2014,9],[2017,12.5],[2020,9],[2023,12.5],[2026,9],[2029,13],[2032,9],[2035,12.5],[2038,9],[2042,23],[2044,9],[2046,12],[2048,8],[2051,11],[2054,8],[2057,11],[2060,14],[2062,7.5],[2065,10.5],[2068,7],[2071,10],[2074,7],[2077,10],[2080,6.5],[2083,9.5],[2086,6.5],[2089,9],[2092,6],[2095,9],[2098,6],[2101,8.5],[2105,5],[2108,9],[2111,6.5],[2114,10],[2117,7],[2120,11],[2123,8],[2126,12],[2129,8.5],[2132,12.5],[2135,9],[2138,13],[2141,9.5],[2144,13.5],[2147,10],[2150,13],[2153,10],[2156,14],[2159,10.5],[2162,14.5],[2165,11],[2168,15],[2171,11.5],[2174,15.5],[2177,12],[2180,16],[2183,12],[2187,23],[2189,12],[2192,16],[2195,11.5],[2198,15.5],[2201,11],[2205,22],[2207,11],[2210,15],[2213,10],[2216,14],[2219,9],[2222,13],[2225,8.5],[2228,12],[2231,8],[2234,11],[2237,7.5],[2240,10.5],[2243,7],[2246,10],[2250,6],[2253,9.5],[2256,7],[2259,10.5],[2262,7.5],[2265,11],[2268,8],[2271,11.5],[2274,8.5],[2277,12],[2280,8.5],[2283,12],[2286,9],[2289,12.5],[2292,9],[2295,13],[2298,9.5],[2301,13.5],[2304,9.5],[2307,14],[2310,10],[2313,14],[2316,10],[2320,15],[2323,10.5],[2326,14.5],[2328,11],[2330,42],[2332,11],[2337,15],[2340,10],[2342,21],[2344,10],[2347,14],[2350,9.5],[2353,13.5],[2356,9],[2359,13],[2362,8.5],[2365,12],[2368,8],[2371,11.5],[2374,7.5],[2377,11],[2380,7.5],[2384,7],[2387,10.5],[2390,8],[2393,11],[2396,8.5],[2399,11.5],[2402,8.5],[2405,12],[2408,9],[2411,12],[2414,9],[2417,12.5],[2420,9],[2423,12],[2426,9],[2429,12.5],[2432,9],[2435,13],[2438,9.5],[2441,14],[2444,10],[2447,15],[2450,11],[2453,16],[2456,12],[2459,25],[2461,12],[2464,17],[2467,12],[2470,20],[2472,12],[2475,17],[2478,12],[2481,18],[2483,12],[2486,24],[2488,11],[2491,15],[2493,10],[2496,17],[2498,9.5],[2501,13],[2504,9],[2507,12],[2510,8.5],[2513,11.5],[2516,8],[2519,11],[2522,7.5],[2525,10.5],[2528,7],[2531,10],[2534,7],[2537,9.5],[2541,6],[2544,9.5],[2547,7],[2550,10],[2553,7.5],[2556,10.5],[2559,8],[2562,11],[2565,8],[2568,11],[2571,8],[2574,11.5],[2577,8.5],[2580,12],[2583,8.5],[2586,12],[2590,15],[2592,9],[2595,13],[2598,9],[2601,26],[2603,9],[2605,16],[2607,27],[2609,10],[2612,20],[2614,10],[2617.9,100],[2620,11],[2622,84],[2624,12],[2627,20],[2629,11],[2632,30.5],[2634,11],[2637,16],[2640,15],[2642,10],[2645,13],[2648,9],[2651,12],[2654,8.5],[2657,11],[2660,8],[2663,11],[2666,7.5],[2669,10.5],[2672,7.5],[2675,10],[2678,7],[2680,7],[2683,10],[2686,7],[2689,10],[2692,7],[2695,10],[2698,6.5],[2701,9.5],[2704,6.5],[2707,9.5],[2710,6.5],[2713,9],[2716,6],[2719,9],[2722,6],[2725,9],[2728,6],[2731,9],[2734,6.5],[2737,10],[2740,7],[2743,11],[2745,15],[2747,7],[2750,12],[2753,23],[2755,7],[2757,15],[2760,27],[2762,9],[2765,21],[2767,9],[2770,53],[2772,9],[2775,21],[2777,10],[2780,14],[2783,9],[2786,13],[2789,8],[2792,11],[2795,15],[2797,7],[2800,10],[2803,6.5],[2806,9],[2809,6],[2812,8.5],[2815,5.5],[2818,8],[2821,5],[2824,7.5],[2827,5],[2830,7.5],[2833,4.5],[2836,7],[2839,4.5],[2842,7],[2845,4.5],[2848,7],[2850,4.5],[2853,7],[2856,4.5],[2859,7],[2862,4.5],[2865,7.5],[2868,5],[2871,7.5],[2874,5],[2877,7.5],[2880,5],[2883,8],[2886,5],[2889,8],[2892,5.5],[2895,8],[2898,5.5],[2901,8.5],[2904,5.5],[2907,8],[2910,5],[2913,8],[2916,5.5],[2919,9],[2923,12],[2925,5.5],[2928,8.5],[2931,5.5],[2934,8],[2937,5],[2940,7.5],[2943,5],[2946,7],[2950,7],[2953,4.5],[2956,6.5],[2959,4],[2962,6.5],[2965,4],[2968,6],[2971,4],[2974,6],[2977,3.5],[2980,6],[2983,3.5],[2986,5.5],[2989,3],[2992,5],[2995,3]
];

// ---------------- LAYOUT (pixel positions of the original figure) ----------------
const W = 961, H = 1144;
const fx = px => px / W;
const fy = py => 1 - py / H;
const FONT = 'Arial, "Liberation Sans", sans-serif';

const panels = [
  {spectrum: pentamerSpectrum, peakMz: pentamerPeakMz, peakInt: pentamerPeakInt,
   markMz: pentamerMarkMz, markLow: pentamerMarkLow, markHigh: pentamerMarkHigh,
   plotX: [47.4, 499], plotY: [562, 51.7], xMax: 3055, box: [10.5, 12.5, 499.5, 572.5], scale: 1,
   title: {x: 478, y: 20, anchor: 'right'}, yTitle: [16, 307], big: [356, 142, 186]},
  {spectrum: hexamerSpectrum, peakMz: hexamerPeakMz, peakInt: hexamerPeakInt,
   markMz: hexamerMarkMz, markLow: hexamerMarkLow, markHigh: hexamerMarkHigh,
   plotX: [558.9, 961], plotY: [563.3, 51.7], xMax: 2933, box: [525, 12.5, 975, 574], scale: 0.93,
   title: {x: 752, y: 20, anchor: 'left'}, yTitle: [530, 307], big: [852, 142, 186]},
  {spectrum: octamerSpectrum, peakMz: octamerPeakMz, peakInt: octamerPeakInt,
   markMz: octamerMarkMz, markLow: octamerMarkLow, markHigh: octamerMarkHigh,
   plotX: [47.7, 499], plotY: [1140.7, 628.5], xMax: 3052, box: [10.5, 588, 499.5, 1160], scale: 1,
   title: {x: 478, y: 596, anchor: 'right'}, yTitle: [16, 884], big: [255, 718, 762]},
  {spectrum: nonamerSpectrum, peakMz: nonamerPeakMz, peakInt: nonamerPeakInt,
   markMz: nonamerMarkMz, markLow: nonamerMarkLow, markHigh: nonamerMarkHigh,
   plotX: [557.1, 961], plotY: [1140.7, 627.3], xMax: 2994, box: [523, 588, 975, 1160], scale: 0.92,
   title: {x: 955, y: 596, anchor: 'right'}, yTitle: [530, 884], big: [733, 718, 762]}
];

const xMinor = xTickValues.slice(0, -1).map((v, i) => (v + xTickValues[i + 1]) / 2);
xMinor.push(xTickValues[xTickValues.length - 1] + (xTickValues[1] - xTickValues[0]) / 2);

const traces = [];
const layout = {
  width: W, height: H,
  margin: {l: 0, r: 0, t: 0, b: 0},
  paper_bgcolor: '#fff', plot_bgcolor: 'rgba(0,0,0,0)',
  showlegend: false,
  annotations: [], shapes: []
};

panels.forEach((p, i) => {
  const n = i + 1;
  const sfx = n === 1 ? '' : String(n);
  const s = p.scale;
  traces.push({
    type: 'scatter', mode: 'lines',
    x: p.spectrum.map(d => d[0]),
    y: p.spectrum.map(d => d[1]),
    xaxis: 'x' + sfx, yaxis: 'y' + sfx,
    line: {color: '#000080', width: 1},
    hoverinfo: 'skip'
  });
  // black centroid marks
  const mx = [], my = [];
  p.markMz.forEach((m, k) => { mx.push(m, m, null); my.push(p.markLow[k], p.markHigh[k], null); });
  traces.push({
    type: 'scatter', mode: 'lines', x: mx, y: my,
    xaxis: 'x' + sfx, yaxis: 'y' + sfx,
    line: {color: '#111', width: 1.5}, connectgaps: false,
    hoverinfo: 'skip'
  });

  layout['xaxis' + sfx] = {
    domain: [fx(p.plotX[0]), fx(p.plotX[1])],
    range: [xTickValues[0], p.xMax],
    anchor: 'y' + sfx,
    tickmode: 'array', tickvals: xTickValues, ticktext: xTickValues.map(String),
    ticks: 'outside', ticklen: 3, tickwidth: 1, tickcolor: '#000',
    minor: {tickmode: 'array', tickvals: xMinor, ticks: 'outside', ticklen: 2, tickwidth: 1, tickcolor: '#000', showgrid: false},
    showline: true, linecolor: '#000', linewidth: 1,
    showgrid: false, zeroline: false,
    tickfont: {family: FONT, size: 8.5 * s, color: '#000', weight: 'bold'},
    ticklabelstandoff: 0
  };
  layout['yaxis' + sfx] = {
    domain: [fy(p.plotY[0]), fy(p.plotY[1])],
    range: [0, 100],
    anchor: 'x' + sfx,
    tickmode: 'array', tickvals: yTickValues, ticktext: yTickValues.map(String),
    ticks: 'outside', ticklen: 3, tickwidth: 1, tickcolor: '#000',
    minor: {dtick: 5, tick0: 0, ticks: 'outside', ticklen: 2, tickwidth: 1, tickcolor: '#000', showgrid: false},
    showline: true, linecolor: '#000', linewidth: 1,
    showgrid: false, zeroline: false,
    tickfont: {family: FONT, size: 8.5 * s, color: '#000', weight: 'bold'},
    ticklabelstandoff: 1
  };

  // panel frame
  layout.shapes.push({
    type: 'rect', xref: 'paper', yref: 'paper',
    x0: fx(p.box[0]), x1: fx(p.box[2]), y0: fy(p.box[3]), y1: fy(p.box[1]),
    line: {color: '#000', width: 2}, fillcolor: 'rgba(0,0,0,0)'
  });

  // red spectrum title
  layout.annotations.push({
    xref: 'paper', yref: 'paper', x: fx(p.title.x), y: fy(p.title.y),
    xanchor: p.title.anchor, yanchor: 'middle', showarrow: false,
    text: spectrumTitles[i],
    font: {family: FONT, size: 11 * s, color: '#ff0000', weight: 'bold'}
  });

  // y-axis title
  layout.annotations.push({
    xref: 'paper', yref: 'paper', x: fx(p.yTitle[0]), y: fy(p.yTitle[1]),
    xanchor: 'center', yanchor: 'middle', showarrow: false, textangle: -90,
    text: yAxisTitle,
    font: {family: FONT, size: 6.5, color: '#ff0000', weight: 'bold'}
  });

  // big N / name labels
  layout.annotations.push({
    xref: 'paper', yref: 'paper', x: fx(p.big[0]), y: fy(p.big[1]),
    xanchor: 'center', yanchor: 'middle', showarrow: false,
    text: oligomerLabels[i],
    font: {family: FONT, size: 37, color: '#000', weight: 'bold'}
  });
  layout.annotations.push({
    xref: 'paper', yref: 'paper', x: fx(p.big[0]), y: fy(p.big[2]),
    xanchor: 'center', yanchor: 'middle', showarrow: false,
    text: oligomerNames[i],
    font: {family: FONT, size: 37, color: '#000', weight: 'bold'}
  });

  // peak labels
  p.peakMz.forEach((mz, k) => {
    layout.annotations.push({
      xref: 'x' + sfx, yref: 'y' + sfx, x: mz, y: p.peakInt[k],
      xanchor: 'left', yanchor: 'bottom', showarrow: false,
      borderpad: 0, yshift: -1,
      text: mz.toFixed(4),
      font: {family: FONT, size: 9 * s, color: '#a31f1f'}
    });
  });
});

Plotly.newPlot('chart', traces, layout, {staticPlot: true, displayModeBar: false});
</script>
</body>
</html>
